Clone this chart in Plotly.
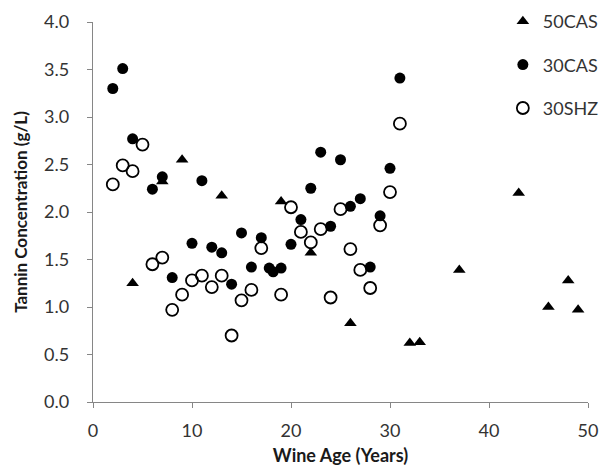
import plotly.graph_objects as go

# 50CAS (triangles)
cas50_age = [4, 7, 9, 13, 19, 22, 26, 32, 33, 37, 43, 46, 48, 49]
cas50_tan = [1.25, 2.32, 2.55, 2.17, 2.11, 1.57, 0.83, 0.62, 0.63, 1.39, 2.20, 1.00, 1.28, 0.97]

# 30CAS (filled circles)
cas30_age = [2, 3, 4, 6, 7, 8, 10, 11, 12, 13, 14, 15, 16, 17, 17.8, 18.2, 19, 20, 21, 22,
             23, 24, 25, 26, 27, 28, 29, 30, 31]
cas30_tan = [3.30, 3.51, 2.77, 2.24, 2.37, 1.31, 1.67, 2.33, 1.63, 1.57, 1.24, 1.78, 1.42,
             1.73, 1.41, 1.37, 1.41, 1.66, 1.92, 2.25, 2.63, 1.85, 2.55, 2.06, 2.14, 1.42,
             1.96, 2.46, 3.41]

# 30SHZ (open circles)
shz30_age = [2, 3, 4, 5, 6, 7, 8, 9, 10, 11, 12, 13, 14, 15, 16, 17, 19, 20, 21, 22, 23,
             24, 25, 26, 27, 28, 29, 30, 31]
shz30_tan = [2.29, 2.49, 2.43, 2.71, 1.45, 1.52, 0.97, 1.13, 1.28, 1.33, 1.21, 1.33, 0.70,
             1.07, 1.18, 1.62, 1.13, 2.05, 1.79, 1.68, 1.82, 1.10, 2.03, 1.61, 1.39, 1.20,
             1.86, 2.21, 2.93]

x_ticks = [0, 10, 20, 30, 40, 50]
y_ticks = [0.0, 0.5, 1.0, 1.5, 2.0, 2.5, 3.0, 3.5, 4.0]

FONT = "Lato"
fig = go.Figure()
fig.add_trace(go.Scatter(
    x=cas50_age, y=cas50_tan, mode="markers", name="50CAS", legendgroup="a",
    marker=dict(symbol="triangle-up", size=11, color="black")))
fig.add_trace(go.Scatter(
    x=cas30_age, y=cas30_tan, mode="markers", name="30CAS", legendgroup="b",
    marker=dict(symbol="circle", size=11, color="black")))
fig.add_trace(go.Scatter(
    x=shz30_age, y=shz30_tan, mode="markers", name="30SHZ", legendgroup="c",
    marker=dict(symbol="circle-open", size=12, color="black", line=dict(width=1.8))))

axis_common = dict(
    showline=True, linecolor="#868686", linewidth=1.3, ticks="outside",
    ticklen=5, tickcolor="#868686", showgrid=False, zeroline=False,
    tickfont=dict(family=FONT, size=18, color="#333333"),
)
fig.update_xaxes(range=[0, 50], tickvals=x_ticks, ticklabelstandoff=7, **axis_common,
                 title=dict(text="<b>Wine Age (Years)</b>", standoff=16,
                            font=dict(family=FONT, size=18, color="#1a1a1a")))
fig.update_yaxes(range=[0, 4.0], tickvals=y_ticks, tickformat=".1f", ticklabelstandoff=14,
                 **axis_common,
                 title=dict(text="<b>Tannin Concentration (g/L)</b>", standoff=12,
                            font=dict(family=FONT, size=17, color="#1a1a1a")))

fig.update_layout(
    width=605, height=466,
    margin=dict(l=93, r=17, t=22, b=64, autoexpand=False),
    paper_bgcolor="white", plot_bgcolor="white",
    legend=dict(x=0.828, y=1.05, xanchor="left", yanchor="top",
                traceorder="grouped", tracegroupgap=17,
                font=dict(family=FONT, size=18, color="#333333"),
                bgcolor="rgba(0,0,0,0)", itemwidth=30),
    showlegend=True,
)
fig.write_html("out.html", config={"displayModeBar": False},
               post_script="document.body.style.margin='0';document.body.style.overflow='hidden';")
